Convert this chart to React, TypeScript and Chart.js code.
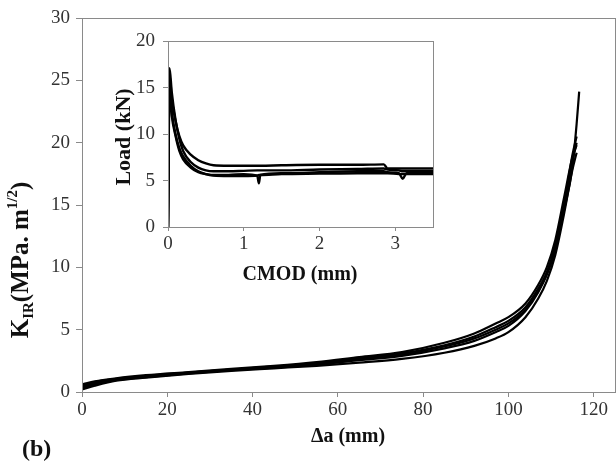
import React, { useEffect, useRef } from "react";
import { Chart, registerables } from "chart.js";

Chart.register(...registerables);

// ---------- main chart data: K_IR (MPa.m^1/2) vs Δa (mm) ----------
const DA = [0, 3, 8, 15, 25, 35, 45, 55, 65, 75, 85, 92, 97, 100, 104, 107, 109, 111, 113, 115, 116, 116.6];
const K_A = [0.6, 0.85, 1.1, 1.35, 1.6, 1.85, 2.1, 2.4, 2.8, 3.2, 3.95, 4.7, 5.5, 6.0, 7.1, 8.6, 10.0, 12.2, 15.5, 18.8, 19.8, null];
const K_B = [0.4, 0.7, 1.0, 1.25, 1.55, 1.8, 2.05, 2.3, 2.7, 3.1, 3.75, 4.45, 5.2, 5.7, 6.8, 8.3, 9.6, 11.6, 14.5, 18.0, 21.5, 24.1];
const K_C = [0.3, 0.6, 0.95, 1.2, 1.5, 1.75, 1.95, 2.2, 2.55, 2.9, 3.5, 4.1, 4.8, 5.3, 6.5, 8.0, 9.5, 11.8, 15.0, 18.5, 20.0, null];
const K_D = [0.2, 0.5, 0.9, 1.15, 1.45, 1.7, 1.9, 2.1, 2.35, 2.65, 3.15, 3.7, 4.3, 4.8, 6.0, 7.5, 8.9, 11.0, 14.2, 17.8, 19.2, null];
const K_E = [0.5, 0.8, 1.05, 1.3, 1.55, 1.8, 2.0, 2.25, 2.6, 3.0, 3.65, 4.3, 5.0, 5.5, 6.6, 8.1, 9.4, 11.4, 14.8, 19.0, 20.5, null];
const MAIN_SERIES = [K_A, K_B, K_C, K_D, K_E];
const MAIN_X_TICKS = [0, 20, 40, 60, 80, 100, 120];
const MAIN_Y_TICKS = [0, 5, 10, 15, 20, 25, 30];

// ---------- inset data: Load (kN) vs CMOD (mm) ----------
const CMOD = [0, 0.02, 0.05, 0.1, 0.15, 0.2, 0.3, 0.4, 0.5, 0.6, 0.8, 1.0, 1.18, 1.2, 1.22, 1.5, 2.0, 2.5, 2.85, 2.9, 3.05, 3.1, 3.15, 3.5];
const LOAD_1 = [0, 16.5, 13.8, 11.4, 9.8, 8.8, 7.8, 7.2, 6.85, 6.65, 6.6, 6.6, 6.6, 6.6, 6.6, 6.65, 6.7, 6.7, 6.75, 6.3, 6.3, 6.3, 6.3, 6.3];
const LOAD_2 = [0, 17.1, 14.5, 11.5, 9.5, 8.2, 7.0, 6.4, 6.1, 6.0, 6.0, 6.05, 6.1, 6.1, 6.1, 6.1, 6.2, 6.25, 6.3, 6.2, 6.1, 6.0, 6.0, 6.0];
const LOAD_3 = [0, 16.0, 12.5, 10.0, 8.5, 7.6, 6.6, 6.0, 5.7, 5.55, 5.5, 5.5, 5.55, 5.6, 5.6, 5.7, 5.75, 5.8, 5.8, 5.8, 5.7, 5.7, 5.7, 5.7];
const LOAD_4 = [0, 15.0, 12.0, 9.8, 8.2, 7.3, 6.4, 5.9, 5.7, 5.6, 5.6, 5.7, 5.5, 4.7, 5.6, 5.8, 5.9, 6.0, 6.0, 5.9, 5.8, 5.2, 5.8, 5.9];
const INSET_SERIES = [LOAD_1, LOAD_2, LOAD_3, LOAD_4];
const INSET_X_TICKS = [0, 1, 2, 3];
const INSET_Y_TICKS = [0, 5, 10, 15, 20];

const FONT = "'Liberation Serif', 'Times New Roman', serif";
const AXIS_GRAY = "#8a8a8a";
const TICK_COLOR = "#333333";

function toPoints(xs: number[], ys: (number | null)[]) {
  const pts: { x: number; y: number }[] = [];
  xs.forEach((x, i) => {
    const y = ys[i];
    if (y !== null && y !== undefined) pts.push({ x, y });
  });
  return pts;
}

const framePlugin = (color: string) => ({
  id: "frame",
  afterDatasetsDraw(chart: any) {
    const { ctx, chartArea: a } = chart;
    ctx.save();
    ctx.strokeStyle = color;
    ctx.lineWidth = 1;
    ctx.strokeRect(Math.round(a.left) + 0.5, Math.round(a.top) + 0.5, Math.round(a.right - a.left), Math.round(a.bottom - a.top));
    ctx.restore();
  },
});

const mainTitles = {
  id: "mainTitles",
  afterDraw(chart: any) {
    const ctx = chart.ctx;
    ctx.save();
    ctx.fillStyle = "#111";
    // x title
    ctx.font = `bold 20px ${FONT}`;
    ctx.textAlign = "center";
    ctx.textBaseline = "middle";
    ctx.fillText("Δa (mm)", 348, 437);
    // (b)
    ctx.font = `bold 24px ${FONT}`;
    ctx.textAlign = "left";
    ctx.fillText("(b)", 22, 450);
    // y title rotated
    const big = `bold 25px ${FONT}`;
    const small = `bold 15px ${FONT}`;
    const parts = [
      { t: "K", f: big, dy: 0 },
      { t: "IR", f: small, dy: 7 },
      { t: "(MPa. m", f: big, dy: 0 },
      { t: "1/2", f: small, dy: -9 },
      { t: ")", f: big, dy: 0 },
    ];
    let total = 0;
    parts.forEach((p) => {
      ctx.font = p.f;
      total += ctx.measureText(p.t).width;
    });
    ctx.translate(22, 260);
    ctx.rotate(-Math.PI / 2);
    ctx.textAlign = "left";
    ctx.textBaseline = "middle";
    let x = -total / 2;
    parts.forEach((p) => {
      ctx.font = p.f;
      ctx.fillText(p.t, x, p.dy);
      x += ctx.measureText(p.t).width;
    });
    ctx.restore();
  },
};

const insetTitles = {
  id: "insetTitles",
  afterDraw(chart: any) {
    const ctx = chart.ctx;
    ctx.save();
    ctx.fillStyle = "#111";
    ctx.font = `bold 20px ${FONT}`;
    ctx.textAlign = "center";
    ctx.textBaseline = "middle";
    ctx.fillText("CMOD (mm)", 200, 253);
    ctx.font = `bold 22px ${FONT}`;
    ctx.translate(24, 115);
    ctx.rotate(-Math.PI / 2);
    ctx.fillText("Load (kN)", 0, 0);
    ctx.restore();
  },
};

function MainChart() {
  const ref = useRef<HTMLCanvasElement>(null);
  useEffect(() => {
    const chart = new Chart(ref.current!, {
      type: "line",
      data: {
        datasets: MAIN_SERIES.map((s) => ({
          data: toPoints(DA, s),
          borderColor: "#000",
          borderWidth: 2.2,
          pointRadius: 0,
          cubicInterpolationMode: "monotone" as const,
          fill: false,
        })),
      },
      options: {
        animation: false,
        responsive: false,
        events: [],
        layout: { padding: { left: 0, top: 18, right: 1, bottom: 0 } },
        plugins: { legend: { display: false }, tooltip: { enabled: false } },
        scales: {
          x: {
            type: "linear",
            min: 0,
            max: 125,
            afterFit: (s: any) => { s.height = 71; },
            afterBuildTicks: (s: any) => { s.ticks = MAIN_X_TICKS.map((v) => ({ value: v })); },
            ticks: { font: { family: FONT, size: 19 }, color: TICK_COLOR, padding: 2, maxRotation: 0 },
            grid: { drawOnChartArea: false, drawTicks: true, tickLength: 5, color: AXIS_GRAY },
            border: { display: true, color: AXIS_GRAY },
          },
          y: {
            type: "linear",
            min: 0,
            max: 30,
            afterFit: (s: any) => { s.width = 82; },
            afterBuildTicks: (s: any) => { s.ticks = MAIN_Y_TICKS.map((v) => ({ value: v })); },
            ticks: { font: { family: FONT, size: 19 }, color: TICK_COLOR, padding: 6 },
            grid: { drawOnChartArea: false, drawTicks: true, tickLength: 6, color: AXIS_GRAY },
            border: { display: true, color: AXIS_GRAY },
          },
        },
      },
      plugins: [framePlugin(AXIS_GRAY), mainTitles],
    } as any);
    return () => chart.destroy();
  }, []);
  return <canvas ref={ref} width={616} height={463} style={{ position: "absolute", left: 0, top: 0 }} />;
}

function InsetChart() {
  const ref = useRef<HTMLCanvasElement>(null);
  useEffect(() => {
    const chart = new Chart(ref.current!, {
      type: "line",
      data: {
        datasets: INSET_SERIES.map((s) => ({
          data: toPoints(CMOD, s),
          borderColor: "#000",
          borderWidth: 2.4,
          pointRadius: 0,
          cubicInterpolationMode: "monotone" as const,
          fill: false,
        })),
      },
      options: {
        animation: false,
        responsive: false,
        events: [],
        layout: { padding: { left: 0, top: 19, right: 7, bottom: 0 } },
        plugins: { legend: { display: false }, tooltip: { enabled: false } },
        scales: {
          x: {
            type: "linear",
            min: 0,
            max: 3.5,
            afterFit: (s: any) => { s.height = 63; },
            afterBuildTicks: (s: any) => { s.ticks = INSET_X_TICKS.map((v) => ({ value: v })); },
            ticks: { font: { family: FONT, size: 19 }, color: TICK_COLOR, padding: 2, maxRotation: 0 },
            grid: { drawOnChartArea: false, drawTicks: true, tickLength: 4, color: AXIS_GRAY },
            border: { display: true, color: AXIS_GRAY },
          },
          y: {
            type: "linear",
            min: 0,
            max: 20,
            afterFit: (s: any) => { s.width = 68; },
            afterBuildTicks: (s: any) => { s.ticks = INSET_Y_TICKS.map((v) => ({ value: v })); },
            ticks: { font: { family: FONT, size: 19 }, color: TICK_COLOR, padding: 8 },
            grid: { drawOnChartArea: false, drawTicks: true, tickLength: 5, color: AXIS_GRAY },
            border: { display: true, color: AXIS_GRAY },
          },
        },
      },
      plugins: [framePlugin(AXIS_GRAY), insetTitles],
    } as any);
    return () => chart.destroy();
  }, []);
  return <canvas ref={ref} width={340} height={268} style={{ position: "absolute", left: 100, top: 22 }} />;
}

export default function App() {
  useEffect(() => {
    document.body.style.margin = "0";
  }, []);
  return (
    <div style={{ position: "relative", width: 616, height: 463, background: "#fff", overflow: "hidden" }}>
      <MainChart />
      <InsetChart />
    </div>
  );
}
